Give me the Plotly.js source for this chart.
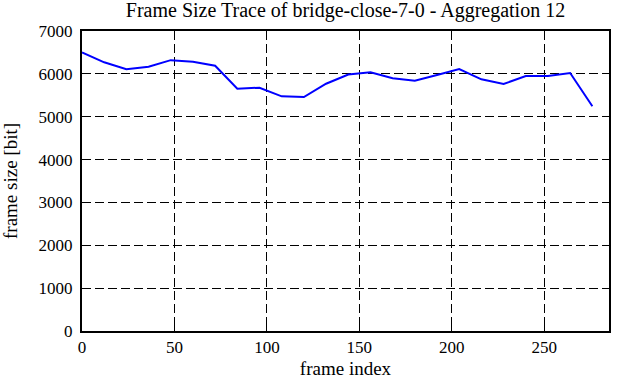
<!DOCTYPE html>
<html>
<head>
<meta charset="utf-8">
<script src="https://cdn.plot.ly/plotly-3.0.1.min.js"></script>
<style>html,body{margin:0;padding:0;background:#fff;}#chart{width:617px;height:382px;}</style>
</head>
<body>
<div id="chart"></div>
<script>
var frameIndex = [0, 12, 24, 36, 48, 60, 72, 84, 96, 108, 120, 132, 144, 156, 168, 180, 192, 204, 216, 228, 240, 252, 264, 276];
var frameSize = [6500, 6270, 6110, 6167, 6320, 6284, 6190, 5654, 5677, 5476, 5460, 5770, 5985, 6036, 5896, 5841, 5973, 6113, 5872, 5763, 5950, 5950, 6020, 5243];
var xTicks = [0, 50, 100, 150, 200, 250];
var yTicks = [0, 1000, 2000, 3000, 4000, 5000, 6000, 7000];

var font = '"Liberation Serif", "Times New Roman", serif';
var trace = {
  x: frameIndex, y: frameSize, type: 'scatter', mode: 'lines',
  line: {color: '#0000ff', width: 2}, showlegend: false, hoverinfo: 'none'
};
var axisCommon = {
  showline: true, linecolor: '#000', linewidth: 2, mirror: 'ticks',
  ticks: 'inside', ticklen: 6, tickcolor: '#000', tickwidth: 1,
  showgrid: true, gridcolor: '#000', gridwidth: 1, griddash: '9px,4px',
  zeroline: false, tickfont: {family: font, size: 17, color: '#000'}
};
var layout = {
  width: 617, height: 382,
  font: {family: font, size: 17, color: '#000'},
  margin: {l: 82, r: 8, t: 31, b: 51, pad: 0},
  paper_bgcolor: '#fff', plot_bgcolor: '#fff',
  title: {text: 'Frame Size Trace of bridge-close-7-0 - Aggregation 12',
          font: {family: font, size: 20, color: '#000'},
          xref: 'paper', x: 0.5, xanchor: 'center', y: 0.975, yanchor: 'middle'},
  xaxis: Object.assign({}, axisCommon, {
    range: [0, 285], tickvals: xTicks, ticktext: xTicks.map(String),
    title: {text: 'frame index', font: {family: font, size: 19, color: '#000'}, standoff: 5}
  }),
  yaxis: Object.assign({}, axisCommon, {
    range: [0, 7000], tickvals: yTicks, ticktext: yTicks.map(String),
    ticklabelstandoff: 4,
    title: {text: 'frame size [bit]', font: {family: font, size: 19, color: '#000'}, standoff: 18}
  })
};
Plotly.newPlot('chart', [trace], layout, {staticPlot: true, displayModeBar: false});
</script>
</body>
</html>
